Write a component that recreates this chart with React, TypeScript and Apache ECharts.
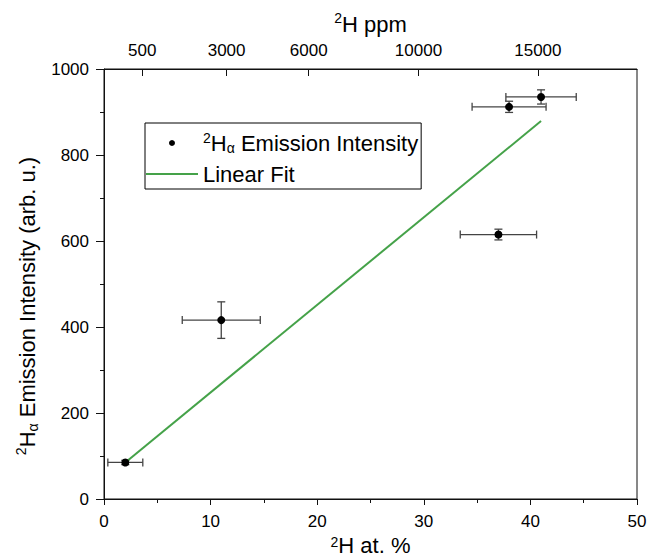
import React, { useEffect, useRef } from 'react';
import * as echarts from 'echarts';

// Data
const atPercent = [2, 11, 37, 38, 41];
const intensity = [85, 416, 615, 912, 935];
const atPercentErr = [1.64, 3.66, 3.58, 3.47, 3.3];
const intensityErr = [5, 42.5, 12.5, 13, 16.5];

const fitX = [2, 41];
const fitY = [85, 879];

// Top axis (ppm) tick positions in at.% units and their labels
const ppmTickPositions = [3.59, 11.5, 19.2, 29.5, 40.7];
const ppmTickLabels = ['500', '3000', '6000', '10000', '15000'];

const FONT = '"Liberation Sans", Arial, Helvetica, sans-serif';
const AXIS_COLOR = '#111';
const FIT_COLOR = '#45a249';

const nameRich = {
  sup: { fontSize: 14, lineHeight: 14, verticalAlign: 'top', fontFamily: FONT, color: '#000' },
  sub: { fontSize: 14, lineHeight: 10, verticalAlign: 'bottom', fontFamily: FONT, color: '#000' },
};

export default function App() {
  const ref = useRef<HTMLDivElement>(null);

  useEffect(() => {
    if (!ref.current) return;
    const chart = echarts.init(ref.current, null, { renderer: 'svg' });

    const points = atPercent.map((x, i) => [x, intensity[i]]);
    const errData = atPercent.map((x, i) => [x, intensity[i], atPercentErr[i], intensityErr[i]]);
    const fitData = fitX.map((x, i) => [x, fitY[i]]);

    const option: any = {
      animation: false,
      backgroundColor: '#ffffff',
      textStyle: { fontFamily: FONT, color: '#000' },
      grid: {
        left: 104,
        right: 12,
        top: 69,
        bottom: 59,
        containLabel: false,
        outerBoundsMode: 'none',
        show: true,
        borderColor: AXIS_COLOR,
        borderWidth: 1,
      },
      legend: {
        orient: 'vertical',
        left: 145,
        top: 123,
        padding: [8, 3, 3, 1],
        itemGap: 7,
        itemWidth: 52,
        itemHeight: 6,
        borderColor: '#000',
        borderWidth: 1,
        selectedMode: false,
        data: [
          { name: 'Emission', icon: 'circle' },
          { name: 'Linear Fit', icon: 'path://M0,0 L52,0 L52,2 L0,2 Z' },
        ],
        formatter: (n: string) =>
          n === 'Emission' ? '{sup|2}H{sub|α} Emission Intensity' : 'Linear Fit',
        textStyle: {
          fontFamily: FONT,
          fontSize: 22,
          lineHeight: 24,
          color: '#000',
          rich: nameRich,
        },
      },
      xAxis: [
        {
          type: 'value',
          position: 'bottom',
          min: 0,
          max: 50,
          interval: 10,
          splitLine: { show: false },
          axisLine: { show: true, lineStyle: { color: AXIS_COLOR, width: 1 } },
          axisTick: { show: true, length: 6, lineStyle: { color: AXIS_COLOR, width: 1 } },
          minorTick: { show: true, splitNumber: 2, length: 4, lineStyle: { color: AXIS_COLOR, width: 1 } },
          axisLabel: { fontSize: 17, color: '#000', margin: 14, fontFamily: FONT },
          name: '{sup|2}H at. %',
          nameLocation: 'middle',
          nameGap: 34,
          nameTextStyle: { fontSize: 22, lineHeight: 22, color: '#000', fontFamily: FONT, rich: nameRich },
        },
        {
          type: 'value',
          position: 'top',
          min: 0,
          max: 50,
          splitLine: { show: false },
          axisLine: { show: true, lineStyle: { color: AXIS_COLOR, width: 1 } },
          axisTick: {
            show: true,
            inside: true,
            length: 7,
            customValues: ppmTickPositions,
            lineStyle: { color: AXIS_COLOR, width: 1 },
          },
          axisLabel: {
            customValues: ppmTickPositions,
            fontSize: 17,
            color: '#000',
            margin: 10,
            fontFamily: FONT,
            formatter: (v: number) => {
              const idx = ppmTickPositions.indexOf(v);
              return idx >= 0 ? ppmTickLabels[idx] : '';
            },
          },
          name: '{sup|2}H ppm',
          nameLocation: 'middle',
          nameGap: 26,
          nameTextStyle: { fontSize: 22, lineHeight: 26, color: '#000', fontFamily: FONT, rich: nameRich },
        },
      ],
      yAxis: {
        type: 'value',
        min: 0,
        max: 1000,
        interval: 200,
        splitLine: { show: false },
        axisLine: { show: true, lineStyle: { color: AXIS_COLOR, width: 1 } },
        axisTick: { show: true, length: 8, lineStyle: { color: AXIS_COLOR, width: 1 } },
        minorTick: { show: true, splitNumber: 2, length: 4, lineStyle: { color: AXIS_COLOR, width: 1 } },
        axisLabel: {
          fontSize: 17,
          color: '#000',
          margin: 15,
          fontFamily: FONT,
          formatter: (v: number) => String(v),
        },
        name: '{sup|2}H{sub|α} Emission Intensity (arb. u.)',
        nameLocation: 'middle',
        nameRotate: 90,
        nameGap: 63,
        nameTextStyle: {
          fontSize: 22,
          lineHeight: 26,
          color: '#000',
          fontFamily: FONT,
          padding: [0, 44, 0, 0],
          rich: nameRich,
        },
      },
      series: [
        {
          name: 'Error bars',
          type: 'custom',
          xAxisIndex: 0,
          yAxisIndex: 0,
          z: 2,
          encode: { x: 0, y: 1 },
          data: errData,
          renderItem: (params: any, api: any) => {
            const x = api.value(0);
            const y = api.value(1);
            const xe = api.value(2);
            const ye = api.value(3);
            const l = api.coord([x - xe, y]);
            const r = api.coord([x + xe, y]);
            const t = api.coord([x, y + ye]);
            const b = api.coord([x, y - ye]);
            const cap = 4;
            const style = { stroke: '#444', lineWidth: 1.3 };
            const mk = (x1: number, y1: number, x2: number, y2: number) => ({
              type: 'line',
              shape: { x1, y1, x2, y2 },
              style,
            });
            return {
              type: 'group',
              children: [
                mk(l[0], l[1], r[0], r[1]),
                mk(l[0], l[1] - cap, l[0], l[1] + cap),
                mk(r[0], r[1] - cap, r[0], r[1] + cap),
                mk(t[0], t[1], b[0], b[1]),
                mk(t[0] - cap, t[1], t[0] + cap, t[1]),
                mk(b[0] - cap, b[1], b[0] + cap, b[1]),
              ],
            };
          },
        },
        {
          name: 'Linear Fit',
          type: 'line',
          xAxisIndex: 0,
          yAxisIndex: 0,
          z: 3,
          data: fitData,
          symbol: 'none',
          showSymbol: false,
          lineStyle: { color: FIT_COLOR, width: 2 },
          itemStyle: { color: FIT_COLOR },
        },
        {
          name: 'Emission',
          type: 'scatter',
          xAxisIndex: 0,
          yAxisIndex: 0,
          z: 5,
          data: points,
          symbol: 'circle',
          symbolSize: 8,
          itemStyle: { color: '#000', opacity: 1 },
        },
      ],
    };

    chart.setOption(option);
    return () => chart.dispose();
  }, []);

  return (
    <div
      ref={ref}
      style={{ position: 'absolute', left: 0, top: 0, width: 649, height: 558, background: '#fff' }}
    />
  );
}
